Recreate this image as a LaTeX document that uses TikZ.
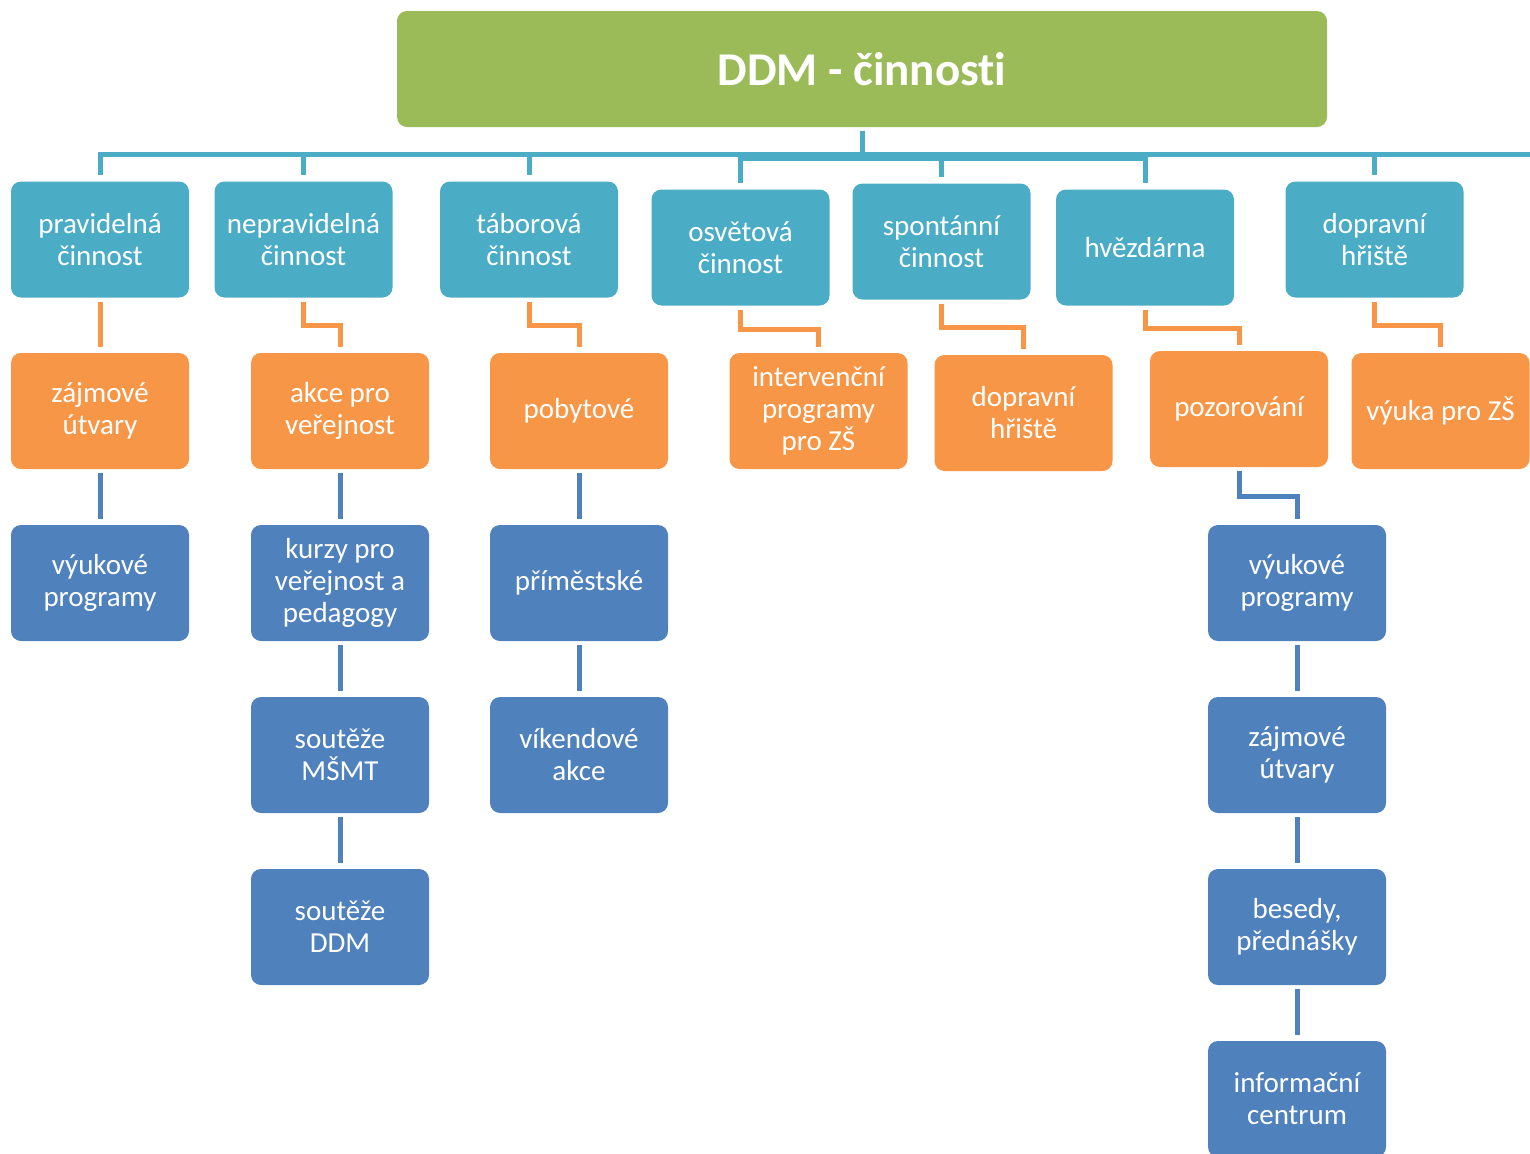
\documentclass[tikz,border=0pt]{standalone}
\usepackage{fontspec}
\setmainfont{Carlito}[Ligatures=NoCommon]
\usetikzlibrary{calc}

\definecolor{ddmgreen}{HTML}{9BBB59}
\definecolor{ddmteal}{HTML}{4BACC6}
\definecolor{ddmorange}{HTML}{F79646}
\definecolor{ddmblue}{HTML}{4F81BD}

\tikzset{
  box/.style={rounded corners=5pt, minimum width=89pt, minimum height=58pt,
    inner sep=0pt, align=center, text=white, font=\fontsize{14.5}{16}\selectfont},
  topbox/.style={box, fill=ddmgreen, minimum width=465pt,
    font=\fontsize{23.5}{26}\selectfont\bfseries},
  tealbox/.style={box, fill=ddmteal},
  orangebox/.style={box, fill=ddmorange},
  bluebox/.style={box, fill=ddmblue},
  link/.style={line width=2.5pt, shorten <=2pt, shorten >=3pt},
  elbow/.style={to path={|- ($(\tikztostart)!.5!(\tikztotarget)$) -| (\tikztotarget) \tikztonodes}}
}

\begin{document}
\begin{tikzpicture}[x=0.5pt, y=-0.5pt]
  \useasboundingbox (0,0) rectangle (1530,1153);
  \begin{scope}
    \node[topbox] (top) at (862,69) {DDM - činnosti};

    \node[tealbox] (prav) at (100,239.5) {pravidelná\\činnost};
    \node[tealbox] (neprav) at (303.5,239.5) {nepravidelná\\činnost};
    \node[tealbox] (tabor) at (529,239.5) {táborová\\činnost};
    \node[tealbox] (osvet) at (740.5,247.5) {osvětová\\činnost};
    \node[tealbox] (spont) at (941.5,241.5) {spontánní\\činnost};
    \node[tealbox] (hvezd) at (1145,247.5) {hvězdárna};
    \node[tealbox] (doprav) at (1374.5,239.5) {dopravní\\hřiště};

    \node[orangebox] (zajm) at (100,411) {zájmové\\útvary};
    \node[orangebox] (akce) at (340,411) {akce pro\\veřejnost};
    \node[orangebox] (pobyt) at (579,411) {pobytové};
    \node[orangebox] (interv) at (818.5,411) {intervenční\\programy\\pro ZŠ};
    \node[orangebox] (doprh) at (1023.5,413) {dopravní\\hřiště};
    \node[orangebox] (pozor) at (1239,409) {pozorování};
    \node[orangebox] (vyuka) at (1440.5,411) {výuka pro ZŠ};

    \node[bluebox] (vyukprog) at (100,583) {výukové\\programy};
    \node[bluebox] (kurzy) at (340,583) {kurzy pro\\veřejnost a\\pedagogy};
    \node[bluebox] (soutmsmt) at (340,755) {soutěže\\MŠMT};
    \node[bluebox] (soutddm) at (340,927) {soutěže\\DDM};
    \node[bluebox] (primest) at (579,583) {příměstské};
    \node[bluebox] (vikend) at (579,755) {víkendové\\akce};
    \node[bluebox] (astrprog) at (1297,583) {výukové\\programy};
    \node[bluebox] (astrutv) at (1297,755) {zájmové\\útvary};
    \node[bluebox] (besedy) at (1297,927) {besedy,\\přednášky};
    \node[bluebox] (info) at (1297,1099) {informační\\centrum};

    \coordinate (busl) at (0,154.5);
    \coordinate (busr) at (0,158.5);
    \coordinate (busend) at (1530,154.5);

    \draw[link, ddmteal, shorten >=0pt] (top.south) |- (busend);
    \draw[link, ddmteal] (top.south) -- (top.south |- busl) -| (prav.north);
    \draw[link, ddmteal] (top.south) -- (top.south |- busl) -| (neprav.north);
    \draw[link, ddmteal] (top.south) -- (top.south |- busl) -| (tabor.north);
    \draw[link, ddmteal] (top.south) -- (top.south |- busr) -| (osvet.north);
    \draw[link, ddmteal] (top.south) -- (top.south |- busr) -| (spont.north);
    \draw[link, ddmteal] (top.south) -- (top.south |- busr) -| (hvezd.north);
    \draw[link, ddmteal] (top.south) -- (top.south |- busl) -| (doprav.north);

    \draw[link, ddmorange] (prav.south) -- (zajm.north);
    \draw[link, ddmorange] (neprav.south) to[elbow] (akce.north);
    \draw[link, ddmorange] (tabor.south) to[elbow] (pobyt.north);
    \draw[link, ddmorange] (osvet.south) to[elbow] (interv.north);
    \draw[link, ddmorange] (spont.south) to[elbow] (doprh.north);
    \draw[link, ddmorange] (hvezd.south) to[elbow] (pozor.north);
    \draw[link, ddmorange] (doprav.south) to[elbow] (vyuka.north);

    \draw[link, ddmblue] (zajm.south) -- (vyukprog.north);
    \draw[link, ddmblue] (akce.south) -- (kurzy.north);
    \draw[link, ddmblue] (kurzy.south) -- (soutmsmt.north);
    \draw[link, ddmblue] (soutmsmt.south) -- (soutddm.north);
    \draw[link, ddmblue] (pobyt.south) -- (primest.north);
    \draw[link, ddmblue] (primest.south) -- (vikend.north);
    \draw[link, ddmblue] (pozor.south) to[elbow] (astrprog.north);
    \draw[link, ddmblue] (astrprog.south) -- (astrutv.north);
    \draw[link, ddmblue] (astrutv.south) -- (besedy.north);
    \draw[link, ddmblue] (besedy.south) -- (info.north);
  \end{scope}
\end{tikzpicture}
\end{document}
